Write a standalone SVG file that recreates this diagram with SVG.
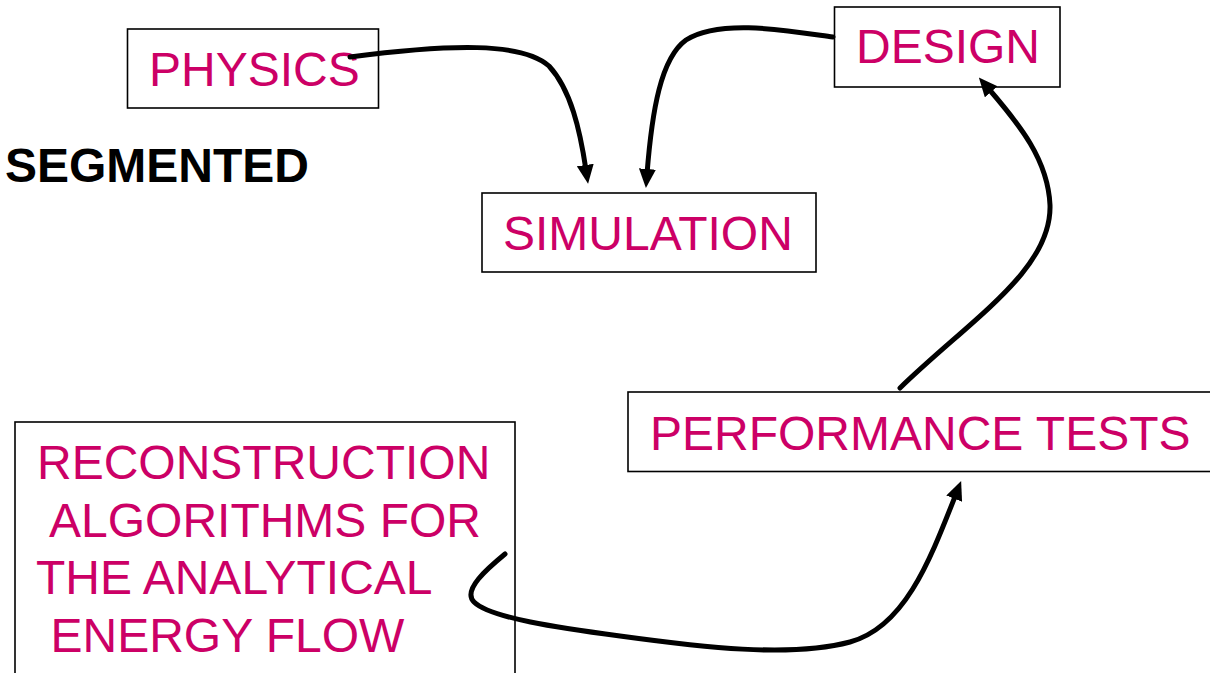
<svg xmlns="http://www.w3.org/2000/svg" width="1210" height="673" viewBox="0 0 1210 673">
  <style>
    .box { fill: #ffffff; stroke: #000000; stroke-width: 1.6; }
    .label { font-family: "Liberation Sans", Arial, sans-serif; font-size: 48px; fill: #CC0066; }
    .title { font-family: "Liberation Sans", Arial, sans-serif; font-size: 48px; font-weight: bold; fill: #000000; }
    .link { fill: none; stroke: #000000; stroke-width: 5; stroke-linecap: round; }
  </style>
  <defs>
    <marker id="arrow" viewBox="0 0 19 17" refX="5" refY="8.5" markerWidth="19" markerHeight="17" markerUnits="userSpaceOnUse" orient="auto">
      <path d="M0,0 L19,8.5 L0,17 z" fill="#000000"/>
    </marker>
  </defs>

  <rect width="1210" height="673" fill="#ffffff"/>

  <text class="title" x="5" y="182">SEGMENTED</text>

  <g id="physics">
    <rect class="box" x="127.5" y="29" width="251" height="79"/>
    <text class="label" x="149" y="86">PHYSICS</text>
  </g>

  <g id="simulation">
    <rect class="box" x="482" y="193" width="334" height="79"/>
    <text class="label" x="503" y="250">SIMULATION</text>
  </g>

  <g id="design">
    <rect class="box" x="834.5" y="7" width="225.5" height="80"/>
    <text class="label" x="856" y="63">DESIGN</text>
  </g>

  <g id="performance">
    <rect class="box" x="628" y="392" width="585" height="79.5"/>
    <text class="label" x="650" y="450">PERFORMANCE TESTS</text>
  </g>

  <g id="reconstruction">
    <rect class="box" x="15" y="422" width="500" height="270"/>
    <text class="label" x="37" y="479">RECONSTRUCTION</text>
    <text class="label" x="49" y="537">ALGORITHMS FOR</text>
    <text class="label" x="36" y="594">THE ANALYTICAL</text>
    <text class="label" x="50.5" y="652">ENERGY FLOW</text>
  </g>

  <g id="connectors">
    <!-- physics to simulation -->
    <path class="link" marker-end="url(#arrow)" d="M350,57 C450,44 522,42 549,66 C571,90 580,130 586,170"/>
    <!-- design to simulation -->
    <path class="link" marker-end="url(#arrow)" d="M833,37 C790,31 720,18 686,40 C661,58 652,110 647,174"/>
    <!-- performance tests to design -->
    <path class="link" marker-end="url(#arrow)" d="M900,388 C970,320 1052,270 1050,205 C1048,160 1020,125 988,88"/>
    <!-- reconstruction to performance tests -->
    <path class="link" marker-end="url(#arrow)" d="M505,554 C488,568 462,590 474,602 C490,618 560,628 620,636 C700,647 790,658 850,642 C905,627 930,560 956,494"/>
  </g>
</svg>
